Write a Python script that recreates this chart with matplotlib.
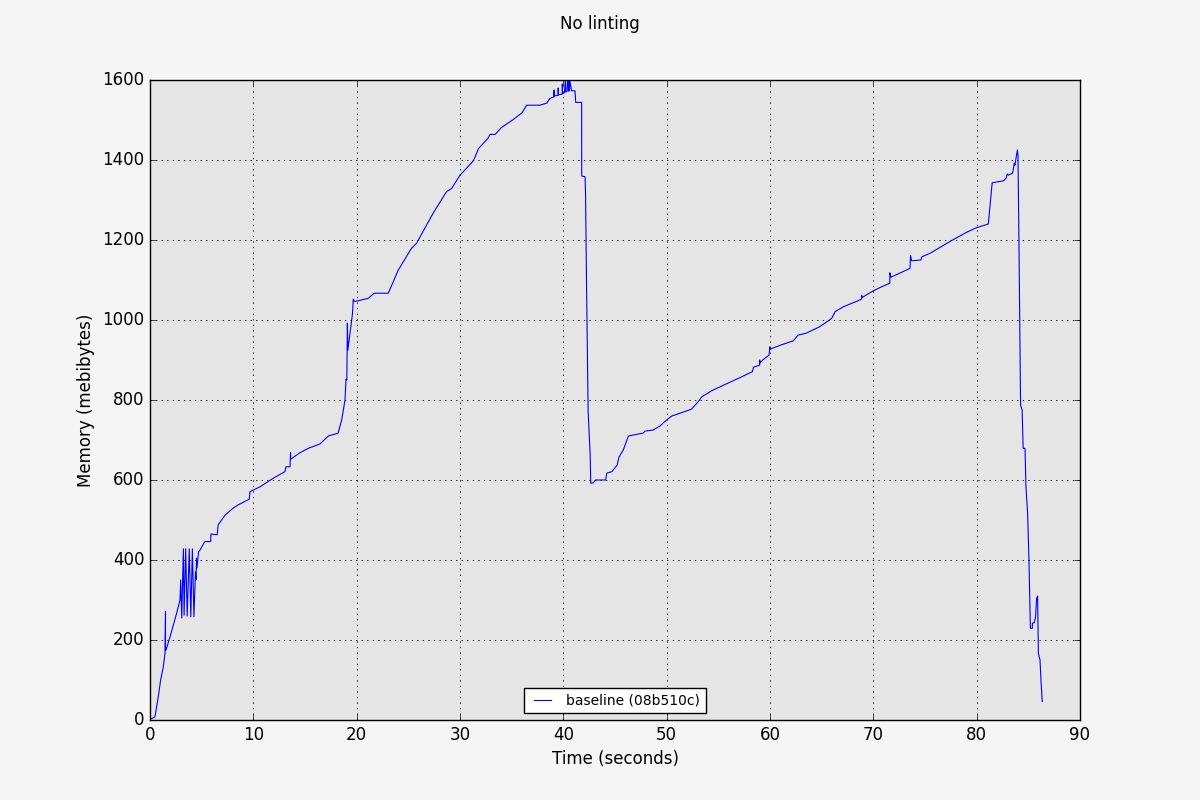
import matplotlib
matplotlib.use("Agg")
import matplotlib.pyplot as plt

# Time (seconds) and memory (MiB)
time_s = [
    0.0, 0.07, 0.48, 0.8, 1.03, 1.29, 1.45, 1.5, 1.5, 1.55, 1.94, 2.58, 2.9, 2.97,
    3.07, 3.23, 3.3, 3.45, 3.6, 3.8, 3.95, 4.1, 4.25, 4.35, 4.4, 4.45, 4.5, 4.55,
    4.7, 4.84, 5.3, 5.87, 5.9, 6.5, 6.6, 7.26, 8.06, 8.55, 9.6, 9.68, 10.0, 10.65,
    11.9, 13.06, 13.16, 13.55, 13.6, 13.62, 14.5, 15.3, 16.45, 17.26, 18.2, 18.55,
    18.87, 18.97, 19.05, 19.1, 19.15, 19.6, 19.67, 19.8, 21.1, 21.7, 23.06, 24.03,
    25.3, 25.8, 27.4, 28.7, 29.2, 30.0, 31.3, 31.8, 32.7, 32.9, 33.4, 34.0, 35.2,
    36.0, 36.45, 37.7, 38.39, 38.7, 39.1, 39.1, 39.12, 39.5, 39.5, 39.52, 39.9,
    39.9, 39.92, 40.1, 40.2, 40.22, 40.35, 40.4, 40.5, 40.52, 40.6, 40.62, 40.8,
    41.13, 41.2, 41.77, 41.78, 42.1, 42.15, 42.25, 42.4, 42.6, 42.65, 42.9, 43.1,
    44.1, 44.2, 44.7, 45.2, 45.4, 45.8, 46.3, 47.25, 47.7, 47.9, 48.7, 49.35, 50.0,
    50.5, 51.3, 52.4, 53.06, 53.4, 54.35, 55.5, 57.1, 58.3, 58.4, 59.0, 59.0, 59.02,
    59.3, 59.9, 60.0, 60.02, 61.0, 62.26, 62.7, 63.5, 64.8, 65.97, 66.3, 67.1,
    68.87, 68.87, 68.9, 70.0, 70.8, 71.6, 71.6, 71.7, 73.55, 73.6, 73.7, 74.6,
    74.7, 75.5, 77.4, 79.0, 80.0, 81.13, 81.5, 82.6, 82.84, 82.97, 83.05, 83.48,
    83.64, 83.7, 83.94, 84.0, 84.1, 84.19, 84.25, 84.4, 84.5, 84.68, 84.77, 84.93,
    85.06, 85.2, 85.38, 85.4, 85.57, 85.7, 85.8, 85.9, 85.97, 86.13, 86.23, 86.35,
]
memory_mib = [
    0, 2, 8, 58, 100, 133, 167, 271, 175, 175, 208, 267, 300, 350,
    255, 428, 262, 428, 260, 428, 258, 428, 258, 330, 370, 350, 405, 380,
    420, 425, 446, 446, 465, 463, 488, 512, 530, 538, 552, 571, 575, 583,
    604, 621, 633, 633, 668, 652, 668, 679, 690, 710, 717, 750,
    800, 852, 850, 992, 925, 1017, 1052, 1046, 1054, 1067, 1067, 1125,
    1179, 1192, 1267, 1321, 1329, 1362, 1398, 1429, 1454, 1464, 1464, 1481, 1502,
    1518, 1537, 1537, 1542, 1554, 1558, 1575, 1560, 1562, 1580, 1563, 1565,
    1590, 1566, 1568, 1600, 1570, 1571, 1598, 1572, 1600, 1573, 1600, 1573,
    1573, 1544, 1544, 1360, 1358, 1317, 1079, 771, 662, 592, 593, 600,
    600, 617, 621, 637, 658, 675, 710, 715, 717, 722, 725, 735, 750,
    760, 767, 777, 796, 808, 823, 837, 856, 871, 882, 887, 900, 893,
    900, 912, 933, 927, 937, 948, 962, 967, 983, 1004, 1021, 1033,
    1052, 1062, 1056, 1073, 1083, 1092, 1118, 1107, 1129, 1162, 1148, 1150,
    1158, 1167, 1196, 1219, 1231, 1240, 1343, 1348, 1354, 1365, 1362, 1367,
    1392, 1387, 1425, 1412, 1175, 925, 787, 775, 679, 679, 583, 518,
    400, 229, 229, 242, 243, 258, 304, 310, 167, 150, 96, 46,
]

series_label = "baseline (08b510c)"
title = "No linting"
x_label = "Time (seconds)"
y_label = "Memory (mebibytes)"
x_ticks = [0, 10, 20, 30, 40, 50, 60, 70, 80, 90]
y_ticks = [0, 200, 400, 600, 800, 1000, 1200, 1400, 1600]

plt.style.use("classic")
plt.rcParams["font.family"] = ["DejaVu Sans"]

fig = plt.figure(figsize=(12, 8), dpi=100, facecolor="#f5f5f5")
ax = fig.add_axes([0.125, 0.1, 0.775, 0.8])
ax.set_facecolor("#e5e5e5")

ax.plot(time_s, memory_mib, color="b", linewidth=0.8, label=series_label)

ax.set_xlim(0, 90)
ax.set_ylim(0, 1600)
ax.set_xticks(x_ticks)
ax.set_yticks(y_ticks)
ax.tick_params(labelsize=12)
ax.grid(True, color="k", linestyle=":", linewidth=0.6)
ax.set_xlabel(x_label, fontsize=12)
ax.set_ylabel(y_label, fontsize=12)
fig.suptitle(title, fontsize=12, y=0.981)

leg = ax.legend(loc="lower center", fontsize=10, handlelength=1.8,
                numpoints=2, fancybox=False, borderaxespad=0.5)
leg.get_frame().set_edgecolor("black")
leg.get_frame().set_linewidth(1.0)

fig.savefig("out.png", dpi=100, facecolor=fig.get_facecolor())
